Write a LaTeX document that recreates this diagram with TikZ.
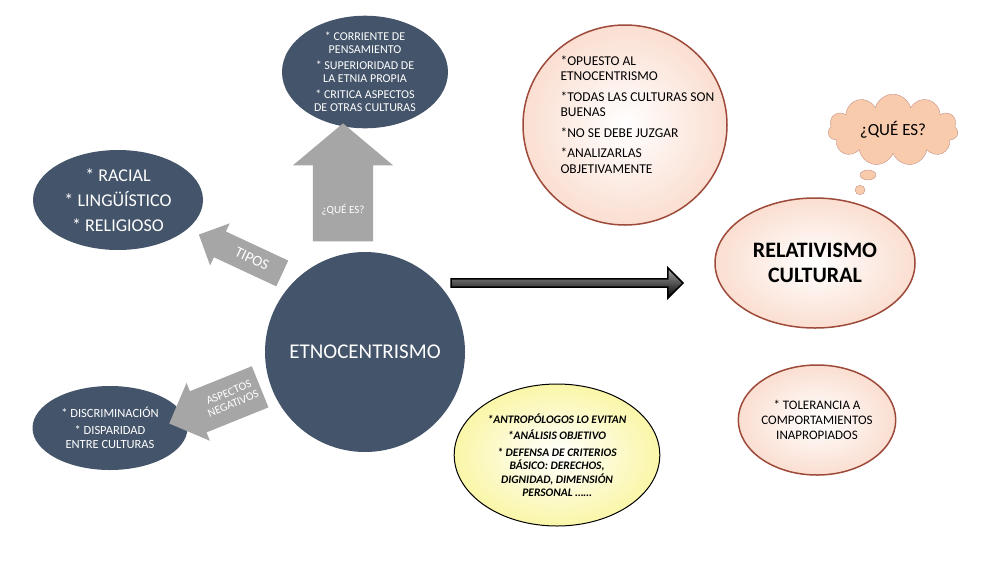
\documentclass[tikz,border=0pt]{standalone}
\usepackage{fontspec}
\setmainfont{Carlito}
\usetikzlibrary{shapes.geometric,shapes.arrows,shapes.symbols,shadows}
\definecolor{slate}{HTML}{44546A}
\definecolor{garr}{HTML}{A6A6A6}
\definecolor{pinkf}{HTML}{FBE3DA}
\definecolor{pinkb}{HTML}{9E4A3A}
\definecolor{peach}{HTML}{F8CBAD}
\definecolor{yel}{HTML}{FAF6A8}
\begin{document}
\begin{tikzpicture}[x=1pt,y=-1pt,
  dark/.style={ellipse,fill=slate,text=white,align=center,inner sep=0pt},
  garrow/.style={single arrow,fill=garr,inner xsep=0pt},
  alabel/.style={text=white,align=center,inner sep=0pt},
  pink/.style={ellipse,draw=pinkb,line width=1.5pt,inner color=white,outer color=pinkf!80!peach,align=center,inner sep=0pt}]
\useasboundingbox (0,0) rectangle (1000,563);
\node[circle,fill=slate,minimum size=200pt,text=white,font=\fontsize{21}{24}\selectfont] (etno) at (365,352) {ETNOCENTRISMO};
\node[dark,minimum width=166pt,minimum height=110pt,font=\fontsize{12}{13}\selectfont] (top) at (365,72) {* CORRIENTE DE\\PENSAMIENTO\\[3pt]* SUPERIORIDAD DE\\LA ETNIA PROPIA\\[3pt]* CRITICA ASPECTOS\\DE OTRAS CULTURAS};
\node[dark,minimum width=170pt,minimum height=100pt,font=\fontsize{18}{20}\selectfont] (tipos) at (118,200) {* RACIAL\\[5pt]* LINGÜÍSTICO\\[5pt]* RELIGIOSO};
\node[dark,minimum width=155pt,minimum height=84pt,font=\fontsize{12.5}{14}\selectfont] (neg) at (110,428) {* DISCRIMINACIÓN\\[3pt]* DISPARIDAD\\ENTRE CULTURAS};
\node[garrow,rotate=90,inner ysep=30pt,minimum height=118pt,single arrow head extend=20pt,single arrow tip angle=100] (aq) at (343,195) {};
\node[alabel,font=\fontsize{11}{12}\selectfont] (aql) at (343,210) {¿QUÉ ES?};
\node[garrow,rotate=-25,shape border rotate=180,inner ysep=14pt,minimum height=92pt,single arrow head extend=9pt] (at) at (247,257) {};
\node[alabel,rotate=-25,font=\fontsize{15}{15}\selectfont] (atl) at (252,259) {TIPOS};
\node[garrow,rotate=22,shape border rotate=180,inner ysep=22pt,minimum height=98pt,single arrow head extend=9pt] (an) at (225,401) {};
\node[alabel,rotate=22,font=\fontsize{11.5}{12}\selectfont] (anl) at (231,398) {ASPECTOS\\NEGATIVOS};
\node[single arrow,minimum height=232pt,minimum width=30pt,single arrow head extend=11pt,top color=gray!70,bottom color=black,draw=black,line width=1.5pt] (big) at (565,283) {};
\node[pink,minimum width=204pt,minimum height=200pt] (op) at (625,125) {};
\node[align=left,anchor=north west,font=\fontsize{13.5}{15.5}\selectfont] at (557,52) {*OPUESTO AL\\ETNOCENTRISMO\\[5pt]*TODAS LAS CULTURAS SON\\BUENAS\\[5pt]*NO SE DEBE JUZGAR\\[5pt]*ANALIZARLAS\\OBJETIVAMENTE};
\node[pink,minimum width=200pt,minimum height=130pt,font=\bfseries\fontsize{22}{25}\selectfont] (rel) at (815,263) {RELATIVISMO\\CULTURAL};
\node[pink,minimum width=144pt,minimum height=110pt,font=\fontsize{13}{15}\selectfont] (tol) at (817,420) {* TOLERANCIA A\\COMPORTAMIENTOS\\INAPROPIADOS};
\node[cloud,cloud puffs=11,aspect=2,fill=peach,draw=pinkb!60,minimum width=130pt,minimum height=70pt,font=\fontsize{17}{19}\selectfont] (q) at (893,130) {¿QUÉ ES?};
\node[ellipse,fill=peach,draw=pinkb!60,minimum width=16pt,minimum height=10pt] (b1) at (868,175) {};
\node[ellipse,fill=peach,draw=pinkb!60,minimum width=10pt,minimum height=7pt] (b2) at (860,190) {};
\node[ellipse,draw=black,line width=1pt,inner color=white,outer color=yel,minimum width=192pt,minimum height=142pt,align=center,font=\bfseries\itshape\fontsize{11.5}{13.5}\selectfont] (y) at (557,455) {*ANTROPÓLOGOS LO EVITAN\\[3pt]*ANÁLISIS OBJETIVO\\[3pt]* DEFENSA DE CRITERIOS\\BÁSICO: DERECHOS,\\DIGNIDAD, DIMENSIÓN\\PERSONAL \dots\dots};
\end{tikzpicture}
\end{document}
